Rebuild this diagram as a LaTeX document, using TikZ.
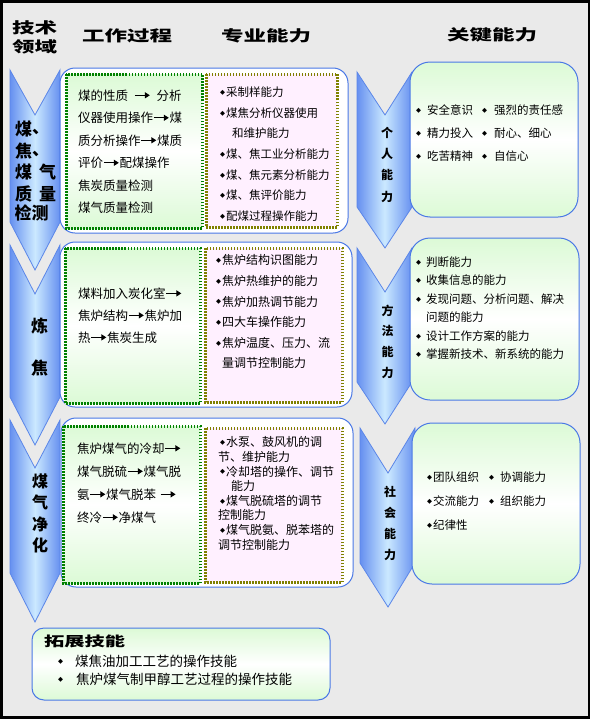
\documentclass[tikz,border=0pt]{standalone}
\usepackage{fontspec}
\setmainfont{Noto Sans CJK SC}
\newfontfamily\widefont{Noto Sans CJK SC}[FakeStretch=1.5]
\newfontfamily\symfont{DejaVu Sans}
\usetikzlibrary{arrows.meta}

\definecolor{bggray}{HTML}{EAEAEA}
\definecolor{chevblue}{HTML}{6690F0}
\definecolor{chevlight}{HTML}{CBE9FF}
\definecolor{chevline}{HTML}{5B86E8}
\definecolor{boxline}{HTML}{4A78E6}
\definecolor{mintgreen}{HTML}{DCFAD6}
\definecolor{dotgreen}{HTML}{008000}
\definecolor{dotolive}{HTML}{808000}
\definecolor{pinkfill}{HTML}{FFF0FF}

% small flow arrow and bullet used inside the texts
\newcommand\flow{\tikz[baseline=-0.38em]\draw[line width=1.3pt,-{Triangle[length=5pt,width=6pt]}] (0,0) -- (15pt,0);}
\newcommand\dia{\makebox[6pt][l]{\raisebox{0.18em}{\symfont\fontsize{6.5}{6.5}\selectfont ◆}}}

\begin{document}
\begin{tikzpicture}[x=1pt, y=-1pt,
    chev/.style={left color=chevblue, right color=chevblue, middle color=chevlight, draw=chevline, line width=0.8pt},
    frame/.style={draw=boxline, line width=1pt, rounded corners=15pt, fill=white},
    greenbox/.style={draw=dotgreen, line width=3pt, dash pattern=on 1.5pt off 1.5pt, top color=mintgreen, bottom color=mintgreen, middle color=white},
    pinkbox/.style={draw=dotolive, line width=3pt, dash pattern=on 1.5pt off 1.5pt, fill=pinkfill},
    keybox/.style={draw=boxline, line width=1pt, rounded corners=20pt, top color=mintgreen, bottom color=mintgreen, middle color=white},
    head/.style={anchor=west, inner sep=0pt, text height=0.88em, text depth=0.12em, font=\widefont\bfseries\fontsize{15}{15}\selectfont},
    biglab/.style={inner sep=0pt, text height=0.88em, text depth=0.12em, font=\bfseries\fontsize{17}{17}\selectfont},
    sidelab/.style={anchor=north, inner sep=0pt, align=center},
    lines/.style={anchor=north west, inner sep=0pt, align=left}]
    \useasboundingbox (0,0) rectangle (592,720);
    \draw[fill=bggray, line width=2.5pt] (1.5,1.5) rectangle (589,717.5);

    % Headers
    \node[head] (hfield1) at (12,30) {技术};
    \node[head] (hfield2) at (12,48.5) {领域};
    \node[head] (hwork) at (82,38) {工作过程};
    \node[head] (hpro) at (221,38) {专业能力};
    \node[head] (hkey) at (447,37) {关键能力};

    % Chevrons
    \draw[chev] (10,70) -- (35,115) -- (60,70) -- (60,222) -- (35,270) -- (10,222) -- cycle;
    \draw[chev] (10,245) -- (35,294) -- (60,245) -- (60,397) -- (35,445) -- (10,397) -- cycle;
    \draw[chev] (10,420) -- (35,468) -- (60,420) -- (60,573) -- (35,622) -- (10,573) -- cycle;
    \draw[chev] (357,72) -- (385,115) -- (412,72) -- (412,207) -- (385,248) -- (357,207) -- cycle;
    \draw[chev] (357,248) -- (385,292) -- (412,248) -- (412,382) -- (385,424) -- (357,382) -- cycle;
    \draw[chev] (360,428) -- (388,473) -- (415,428) -- (415,563) -- (388,607) -- (360,563) -- cycle;

    % Boxes
    \draw[frame] (60,68) rectangle (348,233);
    \draw[frame] (60,242) rectangle (352,407);
    \draw[frame] (61,418) rectangle (353,587);
    \draw[greenbox] (66,74) rectangle (202,228);
    \draw[pinkbox] (206,74) rectangle (337,227);
    \draw[greenbox] (65,248) rectangle (200,403);
    \draw[pinkbox] (205,248) rectangle (342,402);
    \draw[greenbox] (63,426) rectangle (200,583);
    \draw[pinkbox] (205,428) rectangle (342,582);
    \draw[keybox] (410,62) rectangle (578,217);
    \draw[keybox] (410,238) rectangle (579,400);
    \draw[keybox] (412,423) rectangle (580,584);
    \draw[keybox, rounded corners=12pt] (32,628) rectangle (330,700);

    % Field labels
    \node[biglab] (f1a) at (23.5,132) {煤};
    \node[biglab, anchor=base west] (f1b) at (32,133) {、};
    \node[biglab] (f1c) at (23.5,154) {焦};
    \node[biglab, anchor=base west] (f1d) at (32,155) {、};
    \node[biglab] (f1e) at (23.5,175) {煤};
    \node[biglab] (f1f) at (47.5,175) {气};
    \node[biglab] (f1g) at (23.5,197) {质};
    \node[biglab] (f1h) at (47.5,197) {量};
    \node[biglab, anchor=west] (f1i) at (14.5,216) {检测};
    \node[sidelab, font=\bfseries\fontsize{17}{42}\selectfont] (f2) at (39.5,318) {炼\\焦};
    \node[sidelab, font=\bfseries\fontsize{16}{21.3}\selectfont] (f3) at (40,473.6) {煤\\气\\净\\化};
    \node[sidelab, font=\bfseries\fontsize{12}{21.2}\selectfont] (k1) at (387,127) {个\\人\\能\\力};
    \node[sidelab, font=\bfseries\fontsize{12}{20.7}\selectfont] (k2) at (387.5,304.5) {方\\法\\能\\力};
    \node[sidelab, font=\bfseries\fontsize{12}{21}\selectfont] (k3) at (390,485.5) {社\\会\\能\\力};

    % Work process texts
    \node[lines, font=\fontsize{12.5}{22.5}\selectfont] (work1) at (78,89.3) {
        煤的性质\hspace{6pt}\flow\hspace{6pt}分析\\
        仪器使用操作\flow{}煤\\
        质分析操作\flow{}煤质\\
        评价\flow{}配煤操作\\
        焦炭质量检测\\
        煤气质量检测};
    \node[lines, font=\fontsize{12.5}{22}\selectfont] (work2) at (78,287.3) {
        煤料加入炭化室\flow\\
        焦炉结构\flow{}焦炉加\\
        热\flow{}焦炭生成};
    \node[lines, font=\fontsize{12.5}{23}\selectfont] (work3) at (77,442.3) {
        焦炉煤气的冷却\flow\\
        煤气脱硫\flow{}煤气脱\\
        氨\flow{}煤气脱苯\hspace{4pt}\flow\\
        终冷\flow{}净煤气};

    % Professional ability texts
    \node[lines, font=\fontsize{11.5}{20.67}\selectfont] (pro1) at (220,86.7) {
        \dia{}采制样能力\\
        \dia{}煤焦分析仪器使用\\
        \hspace*{12pt}和维护能力\\
        \dia{}煤、焦工业分析能力\\
        \dia{}煤、焦元素分析能力\\
        \dia{}煤、焦评价能力\\
        \dia{}配煤过程操作能力};
    \node[lines, font=\fontsize{12}{20.6}\selectfont] (pro2) at (216,254.5) {
        \dia{}焦炉结构识图能力\\
        \dia{}焦炉热维护的能力\\
        \dia{}焦炉加热调节能力\\
        \dia{}四大车操作能力\\
        \dia{}焦炉温度、压力、流\\
        \hspace*{6pt}量调节控制能力};
    \node[lines, font=\fontsize{12}{14.6}\selectfont] (pro3) at (218,436.5) {
        \hspace*{2pt}\dia{}水泵、鼓风机的调\\
        节、维护能力\\
        \hspace*{2pt}\dia{}冷却塔的操作、调节\\
        \hspace*{13pt}能力\\
        \hspace*{2pt}\dia{}煤气脱硫塔的调节\\
        控制能力\\
        \hspace*{2pt}\dia{}煤气脱氨、脱苯塔的\\
        调节控制能力};

    % Key ability texts
    \node[lines, font=\fontsize{11.5}{23}\selectfont] (key1) at (416,104.7) {
        \makebox[66pt][l]{\dia\hspace{5pt}安全意识}\dia\hspace{6pt}强烈的责任感\\
        \makebox[66pt][l]{\dia\hspace{5pt}精力投入}\dia\hspace{6pt}耐心、细心\\
        \makebox[66pt][l]{\dia\hspace{5pt}吃苦精神}\dia\hspace{6pt}自信心};
    \node[lines, font=\fontsize{11.5}{18.4}\selectfont] (key2) at (416,256.7) {
        \dia\hspace{4pt}判断能力\\
        \dia\hspace{4pt}收集信息的能力\\
        \dia\hspace{4pt}发现问题、分析问题、解决\\
        \hspace*{10pt}问题的能力\\
        \dia\hspace{4pt}设计工作方案的能力\\
        \dia\hspace{4pt}掌握新技术、新系统的能力};
    \node[lines, font=\fontsize{11.5}{24}\selectfont] (key3) at (427,471.7) {
        \makebox[62pt][l]{\dia{}团队组织}\dia\hspace{5pt}协调能力\\
        \makebox[62pt][l]{\dia{}交流能力}\dia\hspace{5pt}组织能力\\
        \dia{}纪律性};

    % Extension skills
    \node[head, font=\widefont\bfseries\fontsize{13.5}{13.5}\selectfont] (ext) at (44,643) {拓展技能};
    \node[lines, font=\fontsize{13.5}{18}\selectfont] (extlist) at (58,654.8) {
        \dia\hspace{11pt}煤焦油加工工艺的操作技能\\
        \dia\hspace{12pt}焦炉煤气制甲醇工艺过程的操作技能};
\end{tikzpicture}
\end{document}
